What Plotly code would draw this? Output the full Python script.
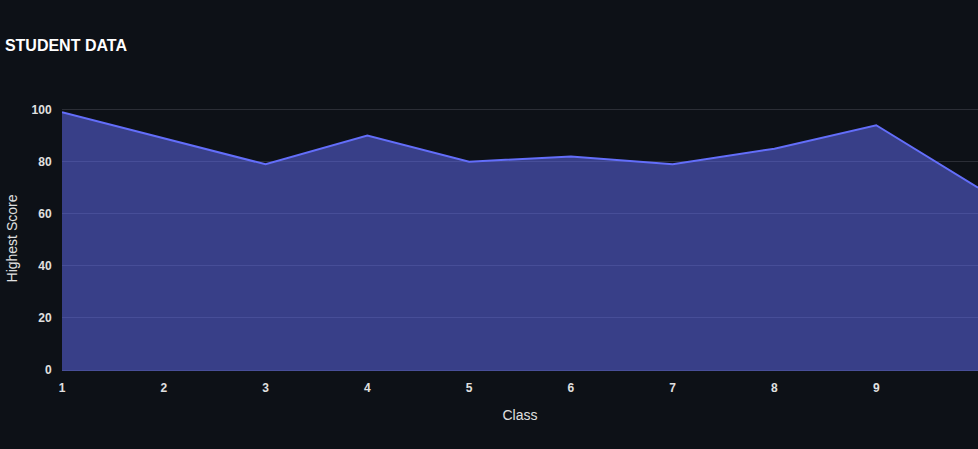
import plotly.graph_objects as go

classes = [1, 2, 3, 4, 5, 6, 7, 8, 9, 10]
highest_score = [99, 89, 79, 90, 80, 82, 79, 85, 94, 70]
y_ticks = [0, 20, 40, 60, 80, 100]

BG = "#0d1117"
GRID = "#2b2e36"

fig = go.Figure()
fig.add_trace(go.Scatter(
    x=classes, y=highest_score, mode="lines", fill="tozeroy",
    line=dict(color="#636efa", width=2),
    fillcolor="rgba(99,110,250,0.5)",
))

fig.update_layout(
    width=978, height=449,
    paper_bgcolor=BG, plot_bgcolor=BG,
    margin=dict(l=62, r=0, t=107, b=79),
    showlegend=False,
    title=dict(text="<b>STUDENT DATA</b>", x=0.005, xanchor="left", y=0.9, yanchor="middle",
               font=dict(family="Liberation Sans, Arial", size=16, color="#ffffff")),
    font=dict(family="Liberation Sans, Arial", color="#e0e0e0", size=12),
    xaxis=dict(
        title=dict(text="Class", font=dict(size=14, color="#e0e0e0")),
        range=[1, 10], tickvals=classes[:9], ticktext=[f"<b>{c}</b>" for c in classes[:9]],
        showgrid=False, zeroline=False,
        showline=True, linecolor="#484f99", linewidth=1,
        ticks="outside", ticklen=7, tickcolor=BG,
        tickfont=dict(size=12, color="#e0e0e0"),
    ),
    yaxis=dict(
        title=dict(text="Highest Score", font=dict(size=14, color="#e0e0e0"), standoff=10),
        range=[0, 101], tickvals=y_ticks,
        ticktext=[f"<b>{v}</b>" for v in y_ticks],
        gridcolor=GRID, zeroline=False, showline=False,
        ticks="outside", ticklen=7, tickcolor=BG,
        tickfont=dict(size=12, color="#e0e0e0"),
    ),
)

fig.write_html("out.html")
